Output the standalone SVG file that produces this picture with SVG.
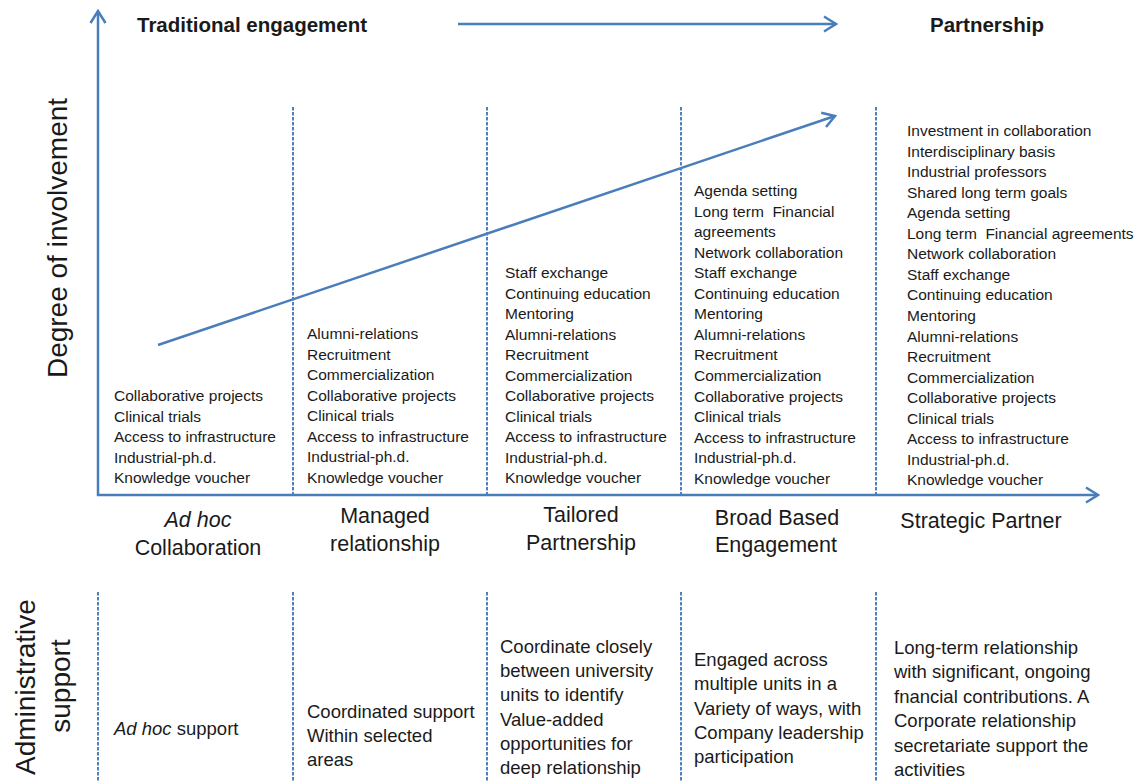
<svg xmlns="http://www.w3.org/2000/svg" width="1137" height="782" viewBox="0 0 1137 782">
<style>
  text { font-family: "Liberation Sans", Arial, sans-serif; fill: #1a1a1a; }
  .axis { stroke: #4a7ebb; stroke-width: 2.5; fill: none; }
  .dash { stroke: #4f81bd; stroke-width: 2; stroke-dasharray: 3.5 1.5; fill: none; }
  .head { font-size: 20.5px; font-weight: bold; }
  .item { font-size: 15.5px; }
  .cat { font-size: 21.5px; text-anchor: middle; }
  .side { font-size: 28px; text-anchor: middle; }
  .adm { font-size: 18.5px; }
</style>
<defs>
  <marker id="chev" viewBox="-14 -9 16 18" markerWidth="16" markerHeight="18" refX="0" refY="0" orient="auto" markerUnits="userSpaceOnUse">
    <path d="M -12 -7.5 L 0 0 L -12 7.5" fill="none" stroke="#4a7ebb" stroke-width="2.5"/>
  </marker>
</defs>
<rect width="1137" height="782" fill="#ffffff"/>

<g id="connectors">
  <line class="axis" x1="98" y1="496" x2="98" y2="11" marker-end="url(#chev)"/>
  <line class="axis" x1="97" y1="495" x2="1098" y2="495" marker-end="url(#chev)"/>
  <line class="axis" x1="458" y1="24" x2="836" y2="24" marker-end="url(#chev)"/>
  <line class="axis" x1="158" y1="345" x2="835" y2="116" marker-end="url(#chev)"/>
  <line class="dash" x1="293" y1="107" x2="293" y2="494"/>
  <line class="dash" x1="487" y1="107" x2="487" y2="494"/>
  <line class="dash" x1="681" y1="107" x2="681" y2="494"/>
  <line class="dash" x1="876" y1="107" x2="876" y2="494"/>
  <line class="dash" x1="98" y1="592" x2="98" y2="782"/>
  <line class="dash" x1="293" y1="592" x2="293" y2="782"/>
  <line class="dash" x1="487" y1="592" x2="487" y2="782"/>
  <line class="dash" x1="681" y1="592" x2="681" y2="782"/>
  <line class="dash" x1="876" y1="592" x2="876" y2="782"/>
</g>

<g id="headers">
  <text class="head" x="137" y="32">Traditional engagement</text>
  <text class="head" x="930" y="32">Partnership</text>
</g>

<g id="axis-labels">
  <text class="side" transform="translate(67,238) rotate(-90)">Degree of involvement</text>
  <text class="side" transform="translate(35,687) rotate(-90)">Administrative</text>
  <text class="side" transform="translate(70,686) rotate(-90)">support</text>
</g>

<g id="col-adhoc">
  <text class="item" x="114" y="401">
    <tspan x="114">Collaborative projects</tspan>
    <tspan x="114" dy="20.5">Clinical trials</tspan>
    <tspan x="114" dy="20.5">Access to infrastructure</tspan>
    <tspan x="114" dy="20.5">Industrial-ph.d.</tspan>
    <tspan x="114" dy="20.5">Knowledge voucher</tspan>
  </text>
  <text class="cat" x="198" y="527" font-style="italic">Ad hoc</text>
  <text class="cat" x="198" y="555">Collaboration</text>
  <text class="adm" x="114" y="735"><tspan font-style="italic">Ad hoc</tspan> support</text>
</g>

<g id="col-managed">
  <text class="item" x="307" y="339">
    <tspan x="307">Alumni-relations</tspan>
    <tspan x="307" dy="20.5">Recruitment</tspan>
    <tspan x="307" dy="20.5">Commercialization</tspan>
    <tspan x="307" dy="20.5">Collaborative projects</tspan>
    <tspan x="307" dy="20.5">Clinical trials</tspan>
    <tspan x="307" dy="20.5">Access to infrastructure</tspan>
    <tspan x="307" dy="20.5">Industrial-ph.d.</tspan>
    <tspan x="307" dy="20.5">Knowledge voucher</tspan>
  </text>
  <text class="cat" x="385" y="523">Managed</text>
  <text class="cat" x="385" y="551">relationship</text>
  <text class="adm" x="307" y="718">
    <tspan x="307">Coordinated support</tspan>
    <tspan x="307" dy="24.2">Within selected</tspan>
    <tspan x="307" dy="24.2">areas</tspan>
  </text>
</g>

<g id="col-tailored">
  <text class="item" x="505" y="278">
    <tspan x="505">Staff exchange</tspan>
    <tspan x="505" dy="20.5">Continuing education</tspan>
    <tspan x="505" dy="20.5">Mentoring</tspan>
    <tspan x="505" dy="20.5">Alumni-relations</tspan>
    <tspan x="505" dy="20.5">Recruitment</tspan>
    <tspan x="505" dy="20.5">Commercialization</tspan>
    <tspan x="505" dy="20.5">Collaborative projects</tspan>
    <tspan x="505" dy="20.5">Clinical trials</tspan>
    <tspan x="505" dy="20.5">Access to infrastructure</tspan>
    <tspan x="505" dy="20.5">Industrial-ph.d.</tspan>
    <tspan x="505" dy="20.5">Knowledge voucher</tspan>
  </text>
  <text class="cat" x="581" y="522">Tailored</text>
  <text class="cat" x="581" y="550">Partnership</text>
  <text class="adm" x="500" y="653">
    <tspan x="500">Coordinate closely</tspan>
    <tspan x="500" dy="24.2">between university</tspan>
    <tspan x="500" dy="24.2">units to identify</tspan>
    <tspan x="500" dy="24.2">Value-added</tspan>
    <tspan x="500" dy="24.2">opportunities for</tspan>
    <tspan x="500" dy="24.2">deep relationship</tspan>
  </text>
</g>

<g id="col-broad">
  <text class="item" x="694" y="196" xml:space="preserve"><tspan x="694">Agenda setting</tspan><tspan x="694" dy="20.55">Long term  Financial</tspan><tspan x="694" dy="20.55">agreements</tspan><tspan x="694" dy="20.55">Network collaboration</tspan><tspan x="694" dy="20.55">Staff exchange</tspan><tspan x="694" dy="20.55">Continuing education</tspan><tspan x="694" dy="20.55">Mentoring</tspan><tspan x="694" dy="20.55">Alumni-relations</tspan><tspan x="694" dy="20.55">Recruitment</tspan><tspan x="694" dy="20.55">Commercialization</tspan><tspan x="694" dy="20.55">Collaborative projects</tspan><tspan x="694" dy="20.55">Clinical trials</tspan><tspan x="694" dy="20.55">Access to infrastructure</tspan><tspan x="694" dy="20.55">Industrial-ph.d.</tspan><tspan x="694" dy="20.55">Knowledge voucher</tspan></text>
  <text class="cat" x="777" y="525">Broad Based</text>
  <text class="cat" x="776" y="552">Engagement</text>
  <text class="adm" x="694" y="666">
    <tspan x="694">Engaged across</tspan>
    <tspan x="694" dy="24.3">multiple units in a</tspan>
    <tspan x="694" dy="24.3">Variety of ways, with</tspan>
    <tspan x="694" dy="24.3">Company leadership</tspan>
    <tspan x="694" dy="24.3">participation</tspan>
  </text>
</g>

<g id="col-strategic">
  <text class="item" x="907" y="136" xml:space="preserve"><tspan x="907">Investment in collaboration</tspan><tspan x="907" dy="20.55">Interdisciplinary basis</tspan><tspan x="907" dy="20.55">Industrial professors</tspan><tspan x="907" dy="20.55">Shared long term goals</tspan><tspan x="907" dy="20.55">Agenda setting</tspan><tspan x="907" dy="20.55">Long term  Financial agreements</tspan><tspan x="907" dy="20.55">Network collaboration</tspan><tspan x="907" dy="20.55">Staff exchange</tspan><tspan x="907" dy="20.55">Continuing education</tspan><tspan x="907" dy="20.55">Mentoring</tspan><tspan x="907" dy="20.55">Alumni-relations</tspan><tspan x="907" dy="20.55">Recruitment</tspan><tspan x="907" dy="20.55">Commercialization</tspan><tspan x="907" dy="20.55">Collaborative projects</tspan><tspan x="907" dy="20.55">Clinical trials</tspan><tspan x="907" dy="20.55">Access to infrastructure</tspan><tspan x="907" dy="20.55">Industrial-ph.d.</tspan><tspan x="907" dy="20.55">Knowledge voucher</tspan></text>
  <text class="cat" x="981" y="528">Strategic Partner</text>
  <text class="adm" x="894" y="654">
    <tspan x="894">Long-term relationship</tspan>
    <tspan x="894" dy="24.4">with significant, ongoing</tspan>
    <tspan x="894" dy="24.4">fnancial contributions. A</tspan>
    <tspan x="894" dy="24.4">Corporate relationship</tspan>
    <tspan x="894" dy="24.4">secretariate support the</tspan>
    <tspan x="894" dy="24.4">activities</tspan>
  </text>
</g>
</svg>
